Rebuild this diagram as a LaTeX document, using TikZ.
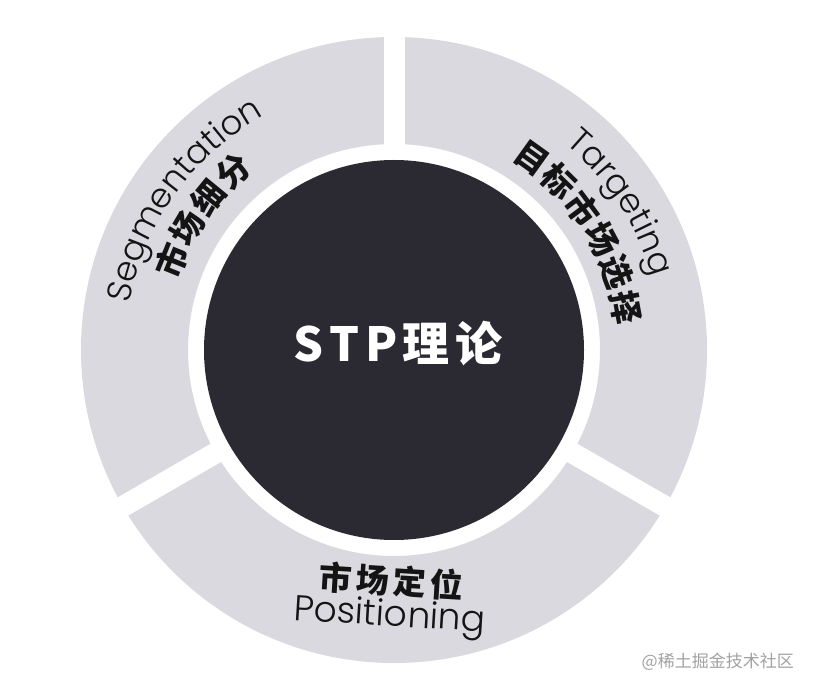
\documentclass[tikz,border=0pt]{standalone}
\usepackage{fontspec}
\usetikzlibrary{decorations.text}
\newfontfamily\cjk{Noto Sans CJK SC}
\newfontfamily\latinlight{Poppins Light}
\definecolor{seg}{HTML}{D9D9DF}
\definecolor{core}{HTML}{2B2A32}
\definecolor{wmgray}{HTML}{A2A2A2}
\definecolor{ink}{HTML}{141414}
\newcommand\latintxt{\latinlight\fontsize{34pt}{34pt}\selectfont\color{ink}}
\tikzset{
  cjklabel/.style={text=ink, inner sep=0pt, font=\cjk\bfseries\fontsize{33pt}{33pt}\selectfont},
  latinlabel/.style={text=ink, inner sep=0pt, font=\latinlight\fontsize{36pt}{36pt}\selectfont},
  arctext/.style={decorate, decoration={text along path, text={|\latintxt|#1}, text align=center}}
}
\begin{document}
\begin{tikzpicture}[x=1pt,y=1pt]
\useasboundingbox (0,0) rectangle (814,694);
\fill[white] (0,0) rectangle (814,694);
\coordinate (C) at (394,344);
% ring
\fill[seg, even odd rule] (C) circle[radius=313pt] (C) circle[radius=206pt];
\foreach \a in {90,210,330} \draw[white, line width=21pt] (C) -- ++(\a:340pt);
% core
\fill[core] (C) circle[radius=190pt];
\node[text=white, inner sep=0pt, font=\cjk\bfseries\fontsize{47pt}{47pt}\selectfont] (title) at (398,350) {S\kern6pt T\kern6pt P\kern5pt 理\kern6pt 论};
% Segmentation
\path[arctext=Segmentation] ([shift={(175:268pt)}]C) arc[start angle=175, end angle=114, radius=268pt];
\foreach \c [count=\i] in {市,场,细,分} {
  \pgfmathsetmacro\ang{158-(\i-1)*8.667}
  \node[cjklabel, rotate=\ang-90] (sc\i) at ([shift={(\ang:240pt)}]C) {\c};
}
% Targeting
\path[arctext=Targeting] ([shift={(61:268pt)}]C) arc[start angle=61, end angle=5, radius=268pt];
\foreach \c [count=\i] in {目,标,市,场,选,择} {
  \pgfmathsetmacro\ang{54.4-(\i-1)*8.78}
  \node[cjklabel, rotate=\ang-90] (tc\i) at ([shift={(\ang:236pt)}]C) {\c};
}
% Positioning
\node[cjklabel, rotate=-3.5] (pc) at (391,113) {市\kern4pt 场\kern4pt 定\kern4pt 位};
\node[latinlabel, rotate=-3.5, anchor=base] (pe) at (389,68) {Positioning};
% watermark
\node[text=wmgray, inner sep=0pt, anchor=east, font=\cjk\fontsize{17pt}{17pt}\selectfont] (wm) at (794,32) {@稀土掘金技术社区};
\end{tikzpicture}
\end{document}
